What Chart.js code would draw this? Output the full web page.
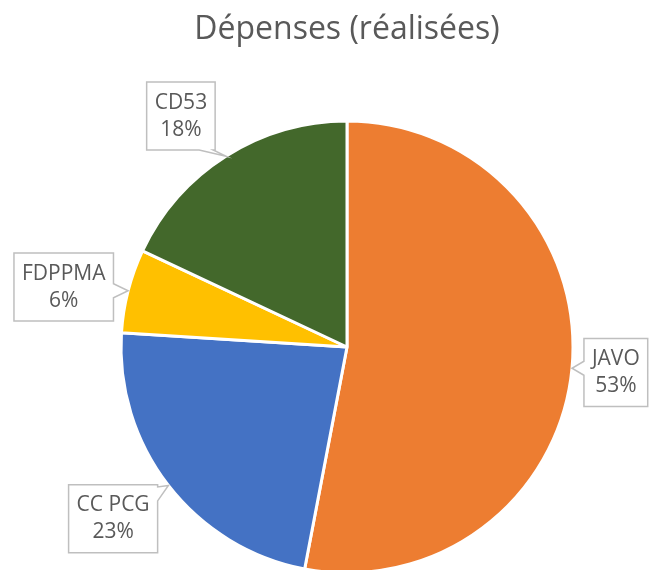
<!DOCTYPE html>
<html>
<head>
<meta charset="utf-8">
<script src="https://cdn.jsdelivr.net/npm/chart.js@4"></script>
<style>
  html, body { margin: 0; padding: 0; background: #fff; overflow: hidden; }
  #wrap { width: 650px; height: 570px; overflow: hidden; }
</style>
</head>
<body>
<div id="wrap"><canvas id="c" width="650" height="640"></canvas></div>
<script>
const categories = ["JAVO", "CC PCG", "FDPPMA", "CD53"];
const values = [53, 23, 6, 18];
const colors = ["#ED7D31", "#4472C4", "#FFC000", "#43682B"];
const titleText = "Dépenses (réalisées)";

const calloutPlugin = {
  id: 'callouts',
  afterDraw(chart, args, opts) {
    const ctx = chart.ctx;
    const meta = chart.getDatasetMeta(0);
    const data = chart.data.datasets[0].data;
    const total = data.reduce((a, b) => a + b, 0);
    ctx.save();
    ctx.font = opts.font;
    meta.data.forEach((arc, i) => {
      const p = arc.getProps(['x', 'y', 'startAngle', 'endAngle', 'outerRadius'], true);
      const mid = (p.startAngle + p.endAngle) / 2;
      const ux = Math.cos(mid), uy = Math.sin(mid);
      const tip = { x: p.x + ux * p.outerRadius, y: p.y + uy * p.outerRadius };
      const lines = [chart.data.labels[i], Math.round(data[i] / total * 100) + '%'];
      const tw = Math.max(...lines.map(l => ctx.measureText(l).width));
      const w = tw + opts.padX * 2;
      const h = lines.length * opts.lineHeight + opts.padY * 2;
      const t = Math.min((w / 2) / Math.max(Math.abs(ux), 1e-6), (h / 2) / Math.max(Math.abs(uy), 1e-6));
      const n = opts.nudges[i] || [0, 0];
      const cx = tip.x + ux * (t + opts.gap) + n[0];
      const cy = tip.y + uy * (t + opts.gap) + n[1];
      const L = cx - w / 2, R = cx + w / 2, T = cy - h / 2, B = cy + h / 2;
      const side = opts.sides[i];
      const hb = opts.tabHalf;
      const clamp = (v, a, b) => Math.max(a, Math.min(b, v));
      ctx.beginPath();
      ctx.moveTo(L, T);
      if (side === 'top') {
        const c = clamp(tip.x, L + hb + 2, R - hb - 2);
        ctx.lineTo(c - hb, T); ctx.lineTo(tip.x, tip.y); ctx.lineTo(c + hb, T);
      }
      ctx.lineTo(R, T);
      if (side === 'right') {
        const c = clamp(tip.y, T + hb + 2, B - hb - 2);
        ctx.lineTo(R, c - hb); ctx.lineTo(tip.x, tip.y); ctx.lineTo(R, c + hb);
      }
      ctx.lineTo(R, B);
      if (side === 'bottom') {
        const c = clamp(tip.x, L + hb + 2, R - hb - 2);
        ctx.lineTo(c + hb, B); ctx.lineTo(tip.x, tip.y); ctx.lineTo(c - hb, B);
      }
      ctx.lineTo(L, B);
      if (side === 'left') {
        const c = clamp(tip.y, T + hb + 2, B - hb - 2);
        ctx.lineTo(L, c + hb); ctx.lineTo(tip.x, tip.y); ctx.lineTo(L, c - hb);
      }
      ctx.closePath();
      ctx.fillStyle = '#FFFFFF';
      ctx.fill();
      ctx.lineWidth = opts.borderWidth;
      ctx.strokeStyle = opts.borderColor;
      ctx.lineJoin = 'miter';
      ctx.stroke();
      ctx.fillStyle = opts.color;
      ctx.textAlign = 'center';
      ctx.textBaseline = 'middle';
      lines.forEach((l, k) => {
        ctx.fillText(l, cx, cy + (k - (lines.length - 1) / 2) * opts.lineHeight);
      });
    });
    ctx.restore();
  }
};

new Chart(document.getElementById('c'), {
  type: 'pie',
  data: {
    labels: categories,
    datasets: [{
      data: values,
      backgroundColor: colors,
      borderColor: '#FFFFFF',
      borderWidth: 3
    }]
  },
  options: {
    responsive: false,
    animation: false,
    devicePixelRatio: 1,
    radius: 226,
    layout: { padding: { left: 44 } },
    plugins: {
      legend: { display: false },
      tooltip: { enabled: false },
      title: {
        display: true,
        text: titleText,
        color: '#595959',
        font: { family: '"Open Sans", "Noto Sans", sans-serif', size: 32, weight: 'normal', lineHeight: 1.2 },
        padding: { top: 10.5, bottom: 5.1 }
      },
      callouts: {
        font: '21px "Open Sans", "Noto Sans", sans-serif',
        color: '#595959',
        borderColor: '#BFBFBF',
        borderWidth: 1.5,
        padX: 8,
        padY: 7,
        lineHeight: 27,
        gap: 12,
        tabHalf: 7,
        sides: ['left', 'right', 'right', 'bottom'],
        nudges: [[0, 0], [-2, -8], [-3, 12], [-17, 4]]
      }
    }
  },
  plugins: [calloutPlugin]
});
</script>
</body>
</html>
